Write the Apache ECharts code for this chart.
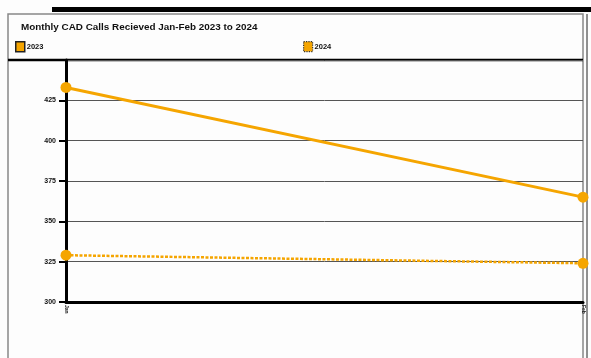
<!DOCTYPE html>
<html>
<head>
<meta charset="utf-8">
<script src="https://cdn.jsdelivr.net/npm/echarts@6/dist/echarts.min.js"></script>
<style>
  html, body { margin: 0; padding: 0; background: #fdfdfd; }
  #main { width: 591px; height: 358px; }
</style>
</head>
<body>
<div id="main"></div>
<script>
var months = ['Jan', 'Feb'];
var calls2023 = [433, 365];
var calls2024 = [329, 324];

var orange = '#f5a500';
var myChart = echarts.init(document.getElementById('main'));

var option = {
    backgroundColor: '#fdfdfd',
    textStyle: { fontFamily: 'Liberation Sans, Arial, sans-serif' },
    title: {
        text: 'Monthly CAD Calls Recieved Jan-Feb 2023 to 2024',
        left: 16,
        top: 17,
        textStyle: { fontSize: 9.9, fontWeight: 'bold', color: '#111' }
    },
    legend: [{
        data: [{ name: '2023', itemStyle: { borderColor: '#222', borderWidth: 1.5 } }],
        left: 10,
        top: 36,
        icon: 'rect',
        itemWidth: 9,
        itemHeight: 10,
        textStyle: { fontSize: 7.5, fontWeight: 'bold', color: '#111', padding: [0, 0, 0, -3] }
    }, {
        data: [{ name: '2024', itemStyle: { borderColor: '#333', borderWidth: 1.2, borderType: 'dotted' } }],
        left: 298,
        top: 36,
        icon: 'rect',
        itemWidth: 9,
        itemHeight: 10,
        textStyle: { fontSize: 7.5, fontWeight: 'bold', color: '#111', padding: [0, 0, 0, -3] }
    }],
    grid: { left: 66, right: 8, top: 60, bottom: 56 },
    xAxis: {
        type: 'category',
        data: months,
        boundaryGap: false,
        axisLine: { lineStyle: { color: '#000', width: 3 } },
        axisTick: { show: false },
        axisLabel: { rotate: -90, fontSize: 5, color: '#222', margin: 3, fontWeight: 'bold' }
    },
    yAxis: {
        type: 'value',
        min: 300,
        max: 450,
        interval: 25,
        axisLine: { show: true, lineStyle: { color: '#000', width: 3 } },
        axisTick: { show: true, length: 7, lineStyle: { color: '#000', width: 2 } },
        axisLabel: {
            fontSize: 7,
            fontWeight: 'bold',
            color: '#111',
            margin: 10,
            formatter: function (v) { return v === 450 ? '' : v; }
        },
        splitLine: { lineStyle: { color: '#555', width: 1 } }
    },
    series: [{
        name: '2023',
        type: 'line',
        data: calls2023,
        symbol: 'circle',
        symbolSize: 11,
        color: orange,
        lineStyle: { color: orange, width: 3 },
        itemStyle: { color: orange }
    }, {
        name: '2024',
        type: 'line',
        data: calls2024,
        symbol: 'circle',
        symbolSize: 11,
        color: orange,
        lineStyle: { color: orange, width: 2.5, type: [3, 1.5] },
        itemStyle: { color: orange }
    }],
    graphic: [
        { type: 'rect', shape: { x: 52, y: 7, width: 539, height: 5 }, style: { fill: '#000' } },
        { type: 'rect', shape: { x: 8, y: 14, width: 575, height: 350 }, style: { fill: 'none', stroke: '#888', lineWidth: 1.5 } },
        { type: 'line', shape: { x1: 8, y1: 60, x2: 583, y2: 60 }, style: { stroke: '#000', lineWidth: 2.5 } },
        { type: 'line', shape: { x1: 587, y1: 14, x2: 587, y2: 358 }, style: { stroke: '#222', lineWidth: 1 } }
    ]
};

myChart.setOption(option);
</script>
</body>
</html>
